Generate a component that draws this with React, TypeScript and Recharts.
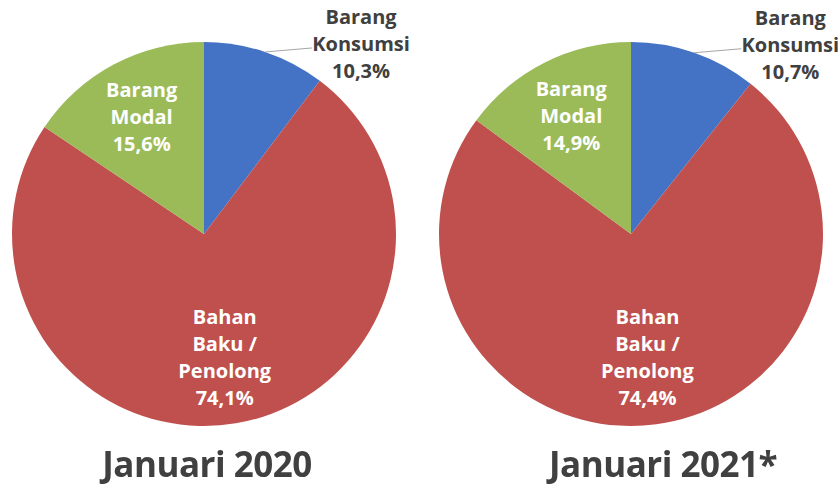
import { Cell, Pie, PieChart } from "recharts";

const categories = ["Barang Konsumsi", "Bahan Baku / Penolong", "Barang Modal"];
const values2020 = [10.3, 74.1, 15.6];
const values2021 = [10.7, 74.4, 14.9];
const titles = ["Januari 2020", "Januari 2021*"];

const COLORS = ["#4472C4", "#C0504D", "#9BBB59"];
const LABEL_LINES: Record<string, string[]> = {
  "Barang Konsumsi": ["Barang", "Konsumsi"],
  "Bahan Baku / Penolong": ["Bahan", "Baku /", "Penolong"],
  "Barang Modal": ["Barang", "Modal"],
};
const FONT = "'Open Sans', 'Liberation Sans', sans-serif";
const RAD = Math.PI / 180;

function fmt(v: number) {
  return v.toFixed(1).replace(".", ",") + "%";
}

function polar(cx: number, cy: number, r: number, angle: number) {
  return { x: cx + r * Math.cos(-angle * RAD), y: cy + r * Math.sin(-angle * RAD) };
}

function renderLabel(props: any) {
  const { cx, cy, midAngle, outerRadius, index, payload } = props;
  const name: string = payload.name;
  const lines = [...LABEL_LINES[name], fmt(payload.value)];
  const lh = 27;
  if (index === 0) {
    // label outside, with a short leader line
    const p = polar(cx, cy, outerRadius, midAngle);
    const ex = p.x + 47;
    const ey = p.y - 4;
    const tx = ex + 49;
    const ty = ey - 24;
    return (
      <g>
        <path d={`M${p.x},${p.y}L${ex},${ey}`} stroke="#A6A6A6" strokeWidth={1} fill="none" />
        <text x={tx} y={ty} textAnchor="middle" fill="#404040" fontFamily={FONT} fontWeight={700} fontSize={20}>
          {lines.map((l, i) => (
            <tspan key={i} x={tx} dy={i === 0 ? 0 : lh}>
              {l}
            </tspan>
          ))}
        </text>
      </g>
    );
  }
  const k = index === 1 ? 0.65 : 0.69;
  const p = polar(cx, cy, outerRadius * k, midAngle);
  const y0 = p.y - ((lines.length - 1) * lh) / 2 + 7;
  return (
    <text x={p.x} y={y0} textAnchor="middle" fill="#FFFFFF" fontFamily={FONT} fontWeight={700} fontSize={20}>
      {lines.map((l, i) => (
        <tspan key={i} x={p.x} dy={i === 0 ? 0 : lh}>
          {l}
        </tspan>
      ))}
    </text>
  );
}

export default function App() {
  const d2020 = categories.map((name, i) => ({ name, value: values2020[i] }));
  const d2021 = categories.map((name, i) => ({ name, value: values2021[i] }));
  return (
    <div style={{ position: "fixed", left: 0, top: 0, width: 838, height: 486, background: "#fff" }}>
      <PieChart width={838} height={486} margin={{ top: 0, right: 0, bottom: 0, left: 0 }}>
        <Pie
          data={d2020}
          dataKey="value"
          nameKey="name"
          cx={204}
          cy={234}
          outerRadius={192}
          startAngle={90}
          endAngle={-270}
          stroke="none"
          isAnimationActive={false}
          labelLine={false}
          label={renderLabel}
        >
          {d2020.map((d, i) => (
            <Cell key={d.name} fill={COLORS[i]} />
          ))}
        </Pie>
        <Pie
          data={d2021}
          dataKey="value"
          nameKey="name"
          cx={631}
          cy={234}
          outerRadius={192}
          startAngle={90}
          endAngle={-270}
          stroke="none"
          isAnimationActive={false}
          labelLine={false}
          label={renderLabel}
        >
          {d2021.map((d, i) => (
            <Cell key={d.name} fill={COLORS[i]} />
          ))}
        </Pie>
      </PieChart>
      {titles.map((t, i) => (
        <div
          key={t}
          style={{
            position: "absolute",
            left: i === 0 ? 207 - 150 : 663 - 150,
            width: 300,
            top: 442,
            textAlign: "center",
            fontFamily: FONT,
            fontWeight: 700,
            fontSize: 35,
            color: "#404040",
            lineHeight: "44px",
            letterSpacing: -0.5,
          }}
        >
          {t}
        </div>
      ))}
    </div>
  );
}
